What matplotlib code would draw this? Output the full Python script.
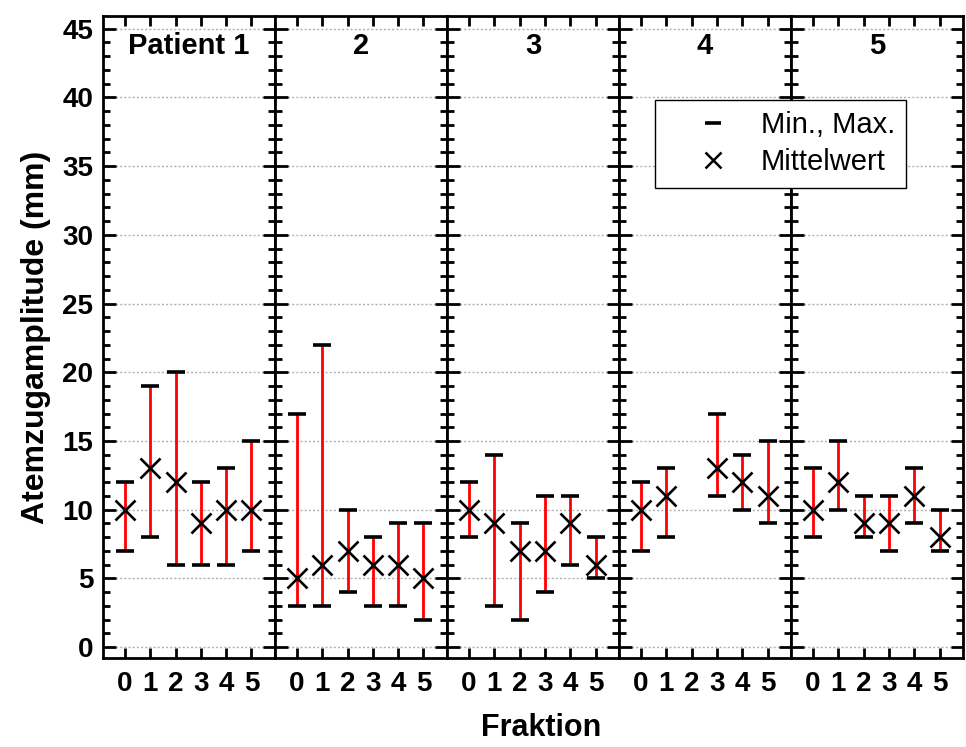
import numpy as np
import matplotlib.pyplot as plt
from matplotlib.lines import Line2D

plt.rcParams['font.family'] = ['Liberation Sans', 'DejaVu Sans']

# ── Data: Atemzugamplitude per Patient and Fraktion ───────────────────────────
fractions = [0, 1, 2, 3, 4, 5]
titles = ["Patient 1", "2", "3", "4", "5"]
nan = np.nan

mean_p = [
    [10, 13, 12, 9, 10, 10],
    [5, 6, 7, 6, 6, 5],
    [10, 9, 7, 7, 9, 6],
    [10, 11, nan, 13, 12, 11],
    [10, 12, 9, 9, 11, 8],
]
min_p = [
    [7, 8, 6, 6, 6, 7],
    [3, 3, 4, 3, 3, 2],
    [8, 3, 2, 4, 6, 5],
    [7, 8, nan, 11, 10, 9],
    [8, 10, 8, 7, 9, 7],
]
max_p = [
    [12, 19, 20, 12, 13, 15],
    [17, 22, 10, 8, 9, 9],
    [12, 14, 9, 11, 11, 8],
    [12, 13, nan, 17, 14, 15],
    [13, 15, 11, 11, 13, 10],
]

# ── Figure ─────────────────────────────────────────────────────────────────────
fig, axes = plt.subplots(1, 5, figsize=(9.66, 7.47), dpi=100, sharey=True)
fig.subplots_adjust(left=0.1066, right=0.997, bottom=0.119, top=0.979, wspace=0)

for i, ax in enumerate(axes):
    x = np.array(fractions, dtype=float)
    m = np.array(mean_p[i], dtype=float)
    lo = np.array(min_p[i], dtype=float)
    hi = np.array(max_p[i], dtype=float)
    ok = ~np.isnan(m)

    ax.vlines(x[ok], lo[ok], hi[ok], color="#ff0000", lw=2, zorder=2)
    ax.plot(x[ok], lo[ok], "_", color="black", ms=13.5, mew=2.6, zorder=3)
    ax.plot(x[ok], hi[ok], "_", color="black", ms=13.5, mew=2.6, zorder=3)
    ax.plot(x[ok], m[ok], "x", color="black", ms=14, mew=1.9, zorder=4)

    ax.set_xlim(-0.87, 5.93)
    ax.set_ylim(-0.8, 45.95)
    ax.set_xticks(fractions)
    ax.set_yticks(np.arange(0, 46, 5))
    ax.set_yticks(np.arange(0, 46, 1), minor=True)
    ax.yaxis.grid(True, which="major", color="#b0b0b0", ls=(0, (1.5, 1.5)), lw=1)
    ax.set_axisbelow(True)
    ax.tick_params(axis="both", which="both", direction="in", top=True, right=True,
                   width=2, labelsize=20)
    ax.tick_params(axis="y", which="major", length=9, pad=7)
    ax.tick_params(axis="y", which="minor", length=5)
    ax.tick_params(axis="x", which="major", length=7, pad=9)
    for lab in ax.get_xticklabels() + ax.get_yticklabels():
        lab.set_fontweight("bold")
    for sp in ax.spines.values():
        sp.set_linewidth(2)
    ax.text(0.5, 0.975, titles[i], transform=ax.transAxes, ha="center", va="top",
            fontsize=21, fontweight="bold")

axes[0].set_ylabel("Atemzugamplitude (mm)", fontsize=23, fontweight="bold", labelpad=8)
fig.text(0.56, 0.005, "Fraktion", ha="center", va="bottom", fontsize=22, fontweight="bold")

# legend spans the border between panel 4 and 5
handles = [
    Line2D([], [], ls="none", marker="_", color="black", ms=12, mew=2.6),
    Line2D([], [], ls="none", marker="x", color="black", ms=11, mew=1.8),
]
leg = fig.legend(handles, ["Min., Max.", "Mittelwert"], loc="upper left",
                 bbox_to_anchor=(655 / 966, 1 - 100 / 747), fontsize=21,
                 frameon=True, fancybox=False, edgecolor="black", framealpha=1,
                 borderpad=0.38, handletextpad=0.05, borderaxespad=0, labelspacing=0.32,
                 handlelength=3.2)
leg.get_frame().set_linewidth(1)

fig.savefig("out.png", dpi=100)
